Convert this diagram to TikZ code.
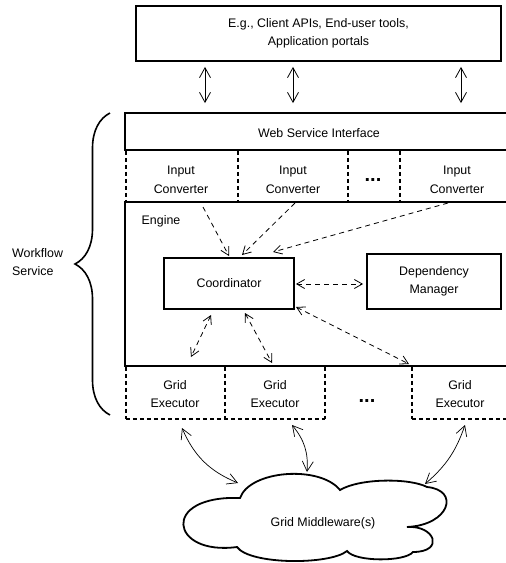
\documentclass[tikz,border=0pt]{standalone}
\usepackage{fontspec}
\setmainfont{Liberation Sans}
\usetikzlibrary{arrows.meta,decorations.pathreplacing,calc}
\begin{document}
\begin{tikzpicture}[x=1pt,y=-1pt,
  every node/.style={font=\fontsize{12.4}{18.5}\selectfont, align=center, inner sep=0pt},
  box/.style={draw, line width=1.8pt, rectangle},
  sep/.style={line width=1.8pt, dash pattern=on 4pt off 3pt},
  dots/.style={font=\fontsize{20}{20}\selectfont\bfseries},
  arr/.style={line width=0.8pt, {Straight Barb[length=10pt,width=11pt]}-{Straight Barb[length=10pt,width=11pt]}},
  darr/.style={line width=0.8pt, dash pattern=on 5pt off 4pt, -{Straight Barb[length=8pt,width=9pt]}},
  ddarr/.style={line width=0.8pt, dash pattern=on 5pt off 4pt, {Straight Barb[length=8pt,width=9pt]}-{Straight Barb[length=8pt,width=9pt]}},
  cloudline/.style={line width=1.8pt}
]
\useasboundingbox (0,0) rectangle (506,563);

% top box
\node[box, minimum width=365, minimum height=55] (top) at (318.5,33.5) {E.g., Client APIs, End-user tools,\\Application portals};

% web service interface
\node[box, minimum width=390, minimum height=37] (wsi) at (320,131.5) {};
\node (wsit) at (319,133) {Web Service Interface};

% engine
\node[box, minimum width=390, minimum height=164] (engine) at (320,284) {};
\node (englabel) at (161,221) {Engine};

% vertical arrows
\coordinate (v1) at (205,0);
\coordinate (v2) at (293,0);
\coordinate (v3) at (461,0);
\draw[arr, shorten <=5pt, shorten >=9pt] (top.south -| v1) -- (wsi.north -| v1);
\draw[arr, shorten <=5pt, shorten >=9pt] (top.south -| v2) -- (wsi.north -| v2);
\draw[arr, shorten <=5pt, shorten >=9pt] (top.south -| v3) -- (wsi.north -| v3);

% input converters
\node (ic1) at (181,180) {Input\\Converter};
\node (ic2) at (293,180) {Input\\Converter};
\node[dots] (icd) at (373,180) {...};
\node (ic4) at (457,180) {Input\\Converter};
\coordinate (x1) at (125.9,0);
\coordinate (x2) at (238,0);
\coordinate (x3) at (348,0);
\coordinate (x4) at (400,0);
\foreach \c in {x1,x2,x3,x4}{
  \draw[sep] (wsi.south -| \c) -- (engine.north -| \c);
}

% coordinator and dependency manager
\node[box, minimum width=130, minimum height=51] (coord) at (229,283.5) {Coordinator};
\node[box, minimum width=134, minimum height=55] (dep) at (434,281.5) {Dependency\\Manager};

% dashed arrows from converters
\coordinate (s1) at (203,207);
\coordinate (s2) at (295,203);
\coordinate (s3) at (448,203);
\coordinate (t1) at (229,256);
\coordinate (t2) at (242,255);
\coordinate (t3) at (273,252);
\draw[darr] (s1) -- (t1);
\draw[darr] (s2) -- (t2);
\draw[darr] (s3) -- (t3);

% coordinator <-> dependency manager
\draw[ddarr, shorten <=1pt, shorten >=3pt] (coord.east |- 0,284) -- (dep.west |- 0,284);

% coordinator <-> grid executors
\coordinate (c1) at (211,315);
\coordinate (c2) at (245,313);
\coordinate (c3) at (296,307);
\coordinate (g1) at (191,357);
\coordinate (g2) at (272,363);
\coordinate (g3) at (409,364);
\draw[ddarr] (c1) -- (g1);
\draw[ddarr] (c2) -- (g2);
\draw[ddarr] (c3) -- (g3);

% grid executors
\node (ge1) at (175,394) {Grid\\Executor};
\node (ge2) at (275,394) {Grid\\Executor};
\node[dots] (ged) at (367,401) {...};
\node (ge3) at (460,394) {Grid\\Executor};
\coordinate (y1) at (125.9,419);
\coordinate (y2) at (225,419);
\coordinate (y3) at (325,419);
\coordinate (y4) at (412,419);
\coordinate (y5) at (515,419);
\foreach \c in {y1,y2,y3,y4}{
  \draw[sep] (engine.south -| \c) -- (\c);
}
\draw[sep] (y1) -- (y3);
\draw[sep] (y4) -- (y5);

% brace
\draw[line width=1.6pt, decorate, decoration={brace, amplitude=35pt, aspect=0.5}] (110,415) -- (110,113);
\node[align=left, anchor=west] (ws) at (12,262) {Workflow\\Service};

% cloud
\draw[cloudline] (240,498) .. controls (250,470) and (320,465) .. (340,490)
  .. controls (360,478) and (410,478) .. (427,487)
  .. controls (460,490) and (450,525) .. (407,527)
  .. controls (435,525) and (445,552) .. (413,552)
  .. controls (405,562) and (355,562) .. (347,551)
  .. controls (330,565) and (250,565) .. (237,547)
  .. controls (170,556) and (160,495) .. (240,498) -- cycle;
\node (gm) at (323,523) {Grid Middleware(s)};

% curved arrows to cloud
\coordinate (b1) at (182,428);
\coordinate (b2) at (292,425);
\coordinate (b3) at (465,425);
\coordinate (k1) at (238,483);
\coordinate (k2) at (307,472);
\coordinate (k3) at (425,484);
\draw[arr, line width=0.7pt] (b1) to[bend right=22] (k1);
\draw[arr, line width=0.7pt] (b2) to[bend left=22] (k2);
\draw[arr, line width=0.7pt] (b3) to[bend left=15] (k3);
\end{tikzpicture}
\end{document}
